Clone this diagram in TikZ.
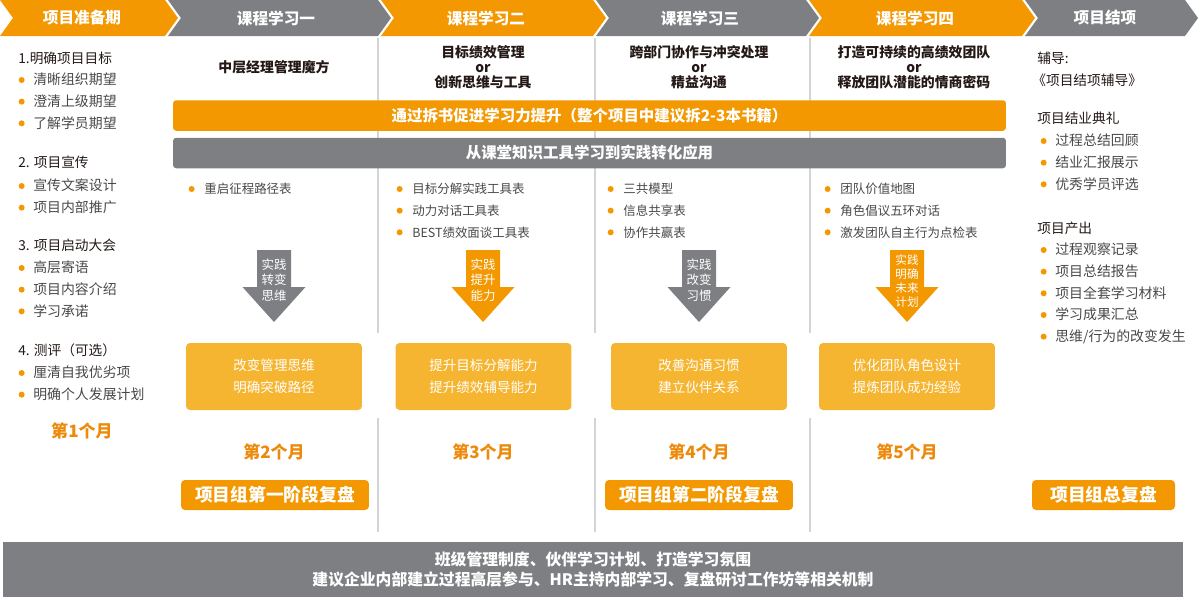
\documentclass[tikz,border=0pt]{standalone}
\usepackage{fontspec}
\setmainfont{Noto Sans CJK SC}
\usetikzlibrary{positioning}

\definecolor{mainorange}{HTML}{F39800}
\definecolor{maingray}{HTML}{7E7F83}
\definecolor{boxyellow}{HTML}{F6B530}
\definecolor{monthorange}{HTML}{EC8A0C}
\definecolor{darktext}{HTML}{231815}
\definecolor{itemgray}{HTML}{4A4747}
\definecolor{linegray}{HTML}{D4D4D4}

\begin{document}
\begin{tikzpicture}[
  x=0.02cm, y=-0.02cm,
  node distance=1.24mm,
  every node/.style={inner sep=0pt, text=itemgray},
  phase/.style={text=white, font=\fontsize{8.9}{10}\selectfont\bfseries},
  course/.style={align=center, text=darktext, font=\fontsize{7.9}{8.5}\selectfont\bfseries},
  group/.style={anchor=west, text=darktext, font=\fontsize{7.8}{9}\selectfont},
  dot/.style={circle, fill=mainorange, minimum size=1.2mm},
  item/.style={text width=3cm, text height=7pt, text depth=1.4pt, font=\fontsize{7.9}{9}\selectfont, label={[dot, xshift=-1.6mm]left:{}}},
  tool/.style={text width=3.4cm, text height=7pt, text depth=1.4pt, font=\fontsize{7.1}{9}\selectfont, label={[dot, xshift=-1.8mm]left:{}}},
  banner/.style={rounded corners=0.6mm, minimum width=16.66cm, minimum height=6.1mm, text=white, font=\fontsize{8.8}{10}\selectfont\bfseries},
  act/.style={align=center, text=white, font=\fontsize{7.1}{8.8}\selectfont},
  result/.style={fill=boxyellow, rounded corners=0.8mm, minimum width=3.52cm, minimum height=1.34cm, align=center, text=white, font=\fontsize{7.7}{12.5}\selectfont},
  month/.style={text=monthorange, font=\fontsize{9.7}{11}\selectfont\bfseries},
  review/.style={fill=mainorange, rounded corners=0.8mm, minimum height=6mm, text=white, font=\fontsize{10.1}{12}\selectfont\bfseries},
  sep/.style={draw=linegray, line width=0.8pt}
]
\useasboundingbox (0,0) rectangle (1200,599);

% Header
\fill[mainorange] (0,0) -- (165,0) -- (178,18) -- (165,36) -- (0,36) -- (13,18) -- cycle;
\fill[maingray] (168,0) -- (378,0) -- (391,18) -- (378,36) -- (168,36) -- (181,18) -- cycle;
\fill[mainorange] (381,0) -- (593,0) -- (606,18) -- (593,36) -- (381,36) -- (394,18) -- cycle;
\fill[maingray] (596,0) -- (806,0) -- (819,18) -- (806,36) -- (596,36) -- (609,18) -- cycle;
\fill[mainorange] (809,0) -- (1022,0) -- (1035,18) -- (1022,36) -- (809,36) -- (822,18) -- cycle;
\fill[maingray] (1025,0) -- (1185,0) -- (1198,18) -- (1185,36) -- (1025,36) -- (1038,18) -- cycle;

\node[phase] (prep) at (82,18) {项目准备期};
\node[phase] (c1) at (276,18) {课程学习一};
\node[phase] (c2) at (486,18) {课程学习二};
\node[phase] (c3) at (700,18) {课程学习三};
\node[phase] (c4) at (915,18) {课程学习四};
\node[phase] (close) at (1105,18) {项目结项};

% Separators
\draw[sep] (378,38) -- (378,333) (378,418) -- (378,532);
\draw[sep] (595,38) -- (595,333) (595,418) -- (595,532);
\draw[sep] (810,38) -- (810,333) (810,418) -- (810,532);

% Course titles
\node[course] (t1) at (274,67) {中层经理管理魔方};
\node[course] (t2) at (483,67) {目标绩效管理\\or\\创新思维与工具};
\node[course] (t3) at (699,67) {跨部门协作与冲突处理\\or\\精益沟通};
\node[course] (t4) at (914,67) {打造可持续的高绩效团队\\or\\释放团队潜能的情商密码};

% Banners
\node[banner, fill=mainorange] (books) at (589.5,115.5) {通过拆书促进学习力提升（整个项目中建议拆2-3本书籍）};
\node[banner, fill=maingray] (practice) at (589.5,153) {从课堂知识工具学习到实践转化应用};

% Preparation column
\node[group] (g1) at (18,58) {1.明确项目目标};
\node[item, anchor=west] (g1a) at (33,80) {清晰组织期望};
\node[item, below=of g1a] (g1b) {澄清上级期望};
\node[item, below=of g1b] (g1c) {了解学员期望};
\node[group] (g2) at (18,162) {2. 项目宣传};
\node[item, anchor=west] (g2a) at (33,186) {宣传文案设计};
\node[item, below=of g2a] (g2b) {项目内部推广};
\node[group] (g3) at (18,245) {3. 项目启动大会};
\node[item, anchor=west] (g3a) at (33,268) {高层寄语};
\node[item, below=of g3a] (g3b) {项目内容介绍};
\node[item, below=of g3b] (g3c) {学习承诺};
\node[group] (g4) at (18,350) {4. 测评（可选）};
\node[item, anchor=west] (g4a) at (33,373) {厘清自我优劣项};
\node[item, below=of g4a] (g4b) {明确个人发展计划};
\node[month] (m1) at (82,431) {第1个月};

% Tools
\node[tool, anchor=west] (k1a) at (204,189) {重启征程路径表};
\node[tool, anchor=west] (k2a) at (412,189) {目标分解实践工具表};
\node[tool, below=of k2a] (k2b) {动力对话工具表};
\node[tool, below=of k2b] (k2c) {BEST绩效面谈工具表};
\node[tool, anchor=west] (k3a) at (623,189) {三共模型};
\node[tool, below=of k3a] (k3b) {信息共享表};
\node[tool, below=of k3b] (k3c) {协作共赢表};
\node[tool, anchor=west] (k4a) at (840,189) {团队价值地图};
\node[tool, below=of k4a] (k4b) {角色倡议五环对话};
\node[tool, below=of k4b] (k4c) {激发团队自主行为点检表};

% Practice arrows
\fill[maingray] (257,250) -- (291,250) -- (291,287) -- (305.5,287) -- (274,322) -- (242.5,287) -- (257,287) -- cycle;
\fill[mainorange] (466,250) -- (500,250) -- (500,287) -- (514.5,287) -- (483,322) -- (451.5,287) -- (466,287) -- cycle;
\fill[maingray] (682,250) -- (716,250) -- (716,287) -- (730.5,287) -- (699,322) -- (667.5,287) -- (682,287) -- cycle;
\fill[mainorange] (890,250) -- (924,250) -- (924,287) -- (938.5,287) -- (907,322) -- (875.5,287) -- (890,287) -- cycle;
\node[act] (a1) at (274,280) {实践\\转变\\思维};
\node[act] (a2) at (483,280) {实践\\提升\\能力};
\node[act] (a3) at (699,280) {实践\\改变\\习惯};
\node[act, font=\fontsize{6.6}{8}\selectfont] (a4) at (907,281) {实践\\明确\\未来\\计划};

% Results
\node[result] (r1) at (274,376.5) {改变管理思维\\明确突破路径};
\node[result] (r2) at (483.5,376.5) {提升目标分解能力\\提升绩效辅导能力};
\node[result] (r3) at (699,376.5) {改善沟通习惯\\建立伙伴关系};
\node[result] (r4) at (907,376.5) {优化团队角色设计\\提炼团队成功经验};

\node[month] (m2) at (274,452) {第2个月};
\node[month] (m3) at (483,452) {第3个月};
\node[month] (m4) at (699,452) {第4个月};
\node[month] (m5) at (907,452) {第5个月};

\node[review, minimum width=3.76cm] (rev1) at (275,495) {项目组第一阶段复盘};
\node[review, minimum width=3.76cm] (rev2) at (699,495) {项目组第二阶段复盘};
\node[review, minimum width=2.86cm] (rev3) at (1103.5,495) {项目组总复盘};

% Closing column
\node[group] (h1) at (1037,58) {辅导:};
\node[group] (h2) at (1032,80) {《项目结项辅导》};
\node[group] (h3) at (1037,118) {项目结业典礼};
\node[item, anchor=west] (h3a) at (1055,141) {过程总结回顾};
\node[item, below=of h3a] (h3b) {结业汇报展示};
\node[item, below=of h3b] (h3c) {优秀学员评选};
\node[group] (h4) at (1037,228) {项目产出};
\node[item, anchor=west] (h4a) at (1055,250) {过程观察记录};
\node[item, below=of h4a] (h4b) {项目总结报告};
\node[item, below=of h4b] (h4c) {项目全套学习材料};
\node[item, below=of h4c] (h4d) {学习成果汇总};
\node[item, below=of h4d] (h4e) {思维/行为的改变发生};

% Bottom bar
\node[fill=maingray, minimum width=23.6cm, minimum height=1.1cm, align=center, text=white, font=\fontsize{9}{11.9}\selectfont\bfseries] (mech) at (593,569.5) {班级管理制度、伙伴学习计划、打造学习氛围\\建议企业内部建立过程高层参与、HR主持内部学习、复盘研讨工作坊等相关机制};

\end{tikzpicture}
\end{document}
